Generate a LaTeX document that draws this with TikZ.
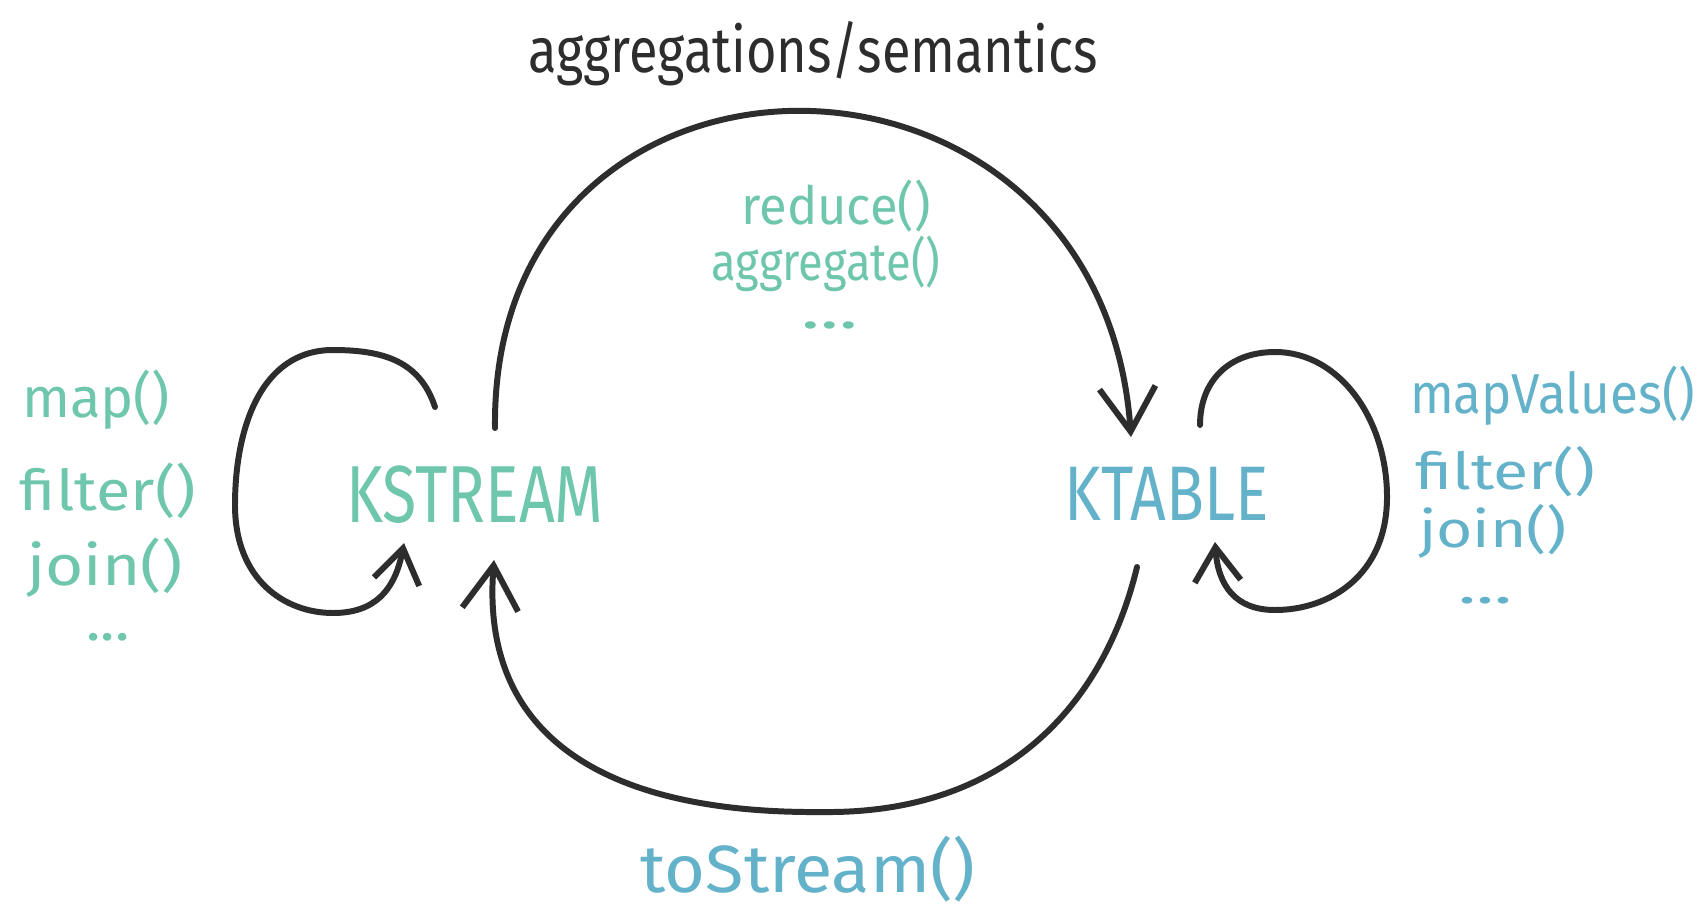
\documentclass[tikz,border=0pt]{standalone}
\usepackage{fontspec}
\setmainfont{Fira Sans}
\usepackage{graphicx}
\usetikzlibrary{arrows.meta}
\definecolor{ink}{RGB}{45,45,45}
\definecolor{kgreen}{RGB}{110,198,172}
\definecolor{kblue}{RGB}{99,178,201}
\newcommand\fitw[2]{\resizebox{#1}{\height}{#2}}
\newcommand\fs[1]{\fontsize{#1}{#1}\selectfont}
\tikzset{
  conn/.style={draw=ink, line width=1.7pt, line cap=round, line join=round},
  bigtip/.style={-{Straight Barb[length=4.4mm,width=5.6mm]}},
  smalltip/.style={-{Straight Barb[length=3.4mm,width=4.6mm]}},
  lbl/.style={inner sep=0pt, outer sep=0pt},
  greentxt/.style={lbl, text=kgreen},
  bluetxt/.style={lbl, text=kblue},
}
\begin{document}
\begin{tikzpicture}[x=0.01cm, y=-0.01cm]
\useasboundingbox (0,0) rectangle (1704,906);
\fill[white] (0,0) rectangle (1704,906);

% title
\node[lbl, text=ink, anchor=base] (title) at (813,72) {\fs{18pt}\fitw{5.69cm}{aggregations/semantics}};

% main nodes
\node[greentxt, anchor=base] (ks) at (475,522) {\fs{23pt}\fitw{2.57cm}{KSTREAM}};
\node[bluetxt, anchor=base] (kt) at (1167,520) {\fs{22pt}\fitw{2.04cm}{KTABLE}};

% center labels
\node[greentxt, anchor=base] (reduce) at (836,224) {\fs{15pt}\fitw{1.89cm}{reduce()}};
\node[greentxt, anchor=base] (aggr) at (826,280) {\fs{15pt}\fitw{2.29cm}{aggregate()}};
\node[greentxt, anchor=base] (cdots) at (830,328) {\fs{15pt}\fitw{0.56cm}{...}};

% left list
\node[greentxt, anchor=base west] (lmap) at (22,417) {\fs{16pt}\fitw{1.48cm}{map()}};
\node[greentxt, anchor=base west] (lfilter) at (20,510) {\fs{16pt}\fitw{1.76cm}{filter()}};
\node[greentxt, anchor=base west] (ljoin) at (27,585) {\fs{16pt}\fitw{1.56cm}{join()}};
\node[greentxt, anchor=base] (ldots) at (108,640) {\fs{16pt}\fitw{0.43cm}{...}};

% right list
\node[bluetxt, anchor=base west] (rmap) at (1410,413) {\fs{16pt}\fitw{2.85cm}{mapValues()}};
\node[bluetxt, anchor=base west] (rfilter) at (1415,489) {\fs{14.5pt}\fitw{1.80cm}{filter()}};
\node[bluetxt, anchor=base west] (rjoin) at (1419,547) {\fs{14.5pt}\fitw{1.48cm}{join()}};
\node[bluetxt, anchor=base] (rdots) at (1485,603) {\fs{14pt}\fitw{0.54cm}{...}};

% bottom label
\node[bluetxt, anchor=base] (tostream) at (808,892) {\fs{19pt}\fitw{3.35cm}{toStream()}};

% connector end points
\coordinate (ksTop) at (495,428);
\coordinate (ktTop) at (1131,437);
\coordinate (ktBot) at (1137,567);
\coordinate (ksBot) at (494,560);
\coordinate (botMid) at (823,812);
\coordinate (ksLoopS) at (435,407);
\coordinate (ksLoopE) at (404,543);
\coordinate (ktLoopS) at (1200,425);
\coordinate (ktLoopE) at (1215,542);

% aggregation arc
\draw[conn, bigtip] (ksTop) .. controls (490,5) and (1100,5) .. (ktTop);
% toStream arc
\draw[conn, bigtip] (ktBot) .. controls (1105,700) and (1010,814) .. (botMid)
  .. controls (610,814) and (480,740) .. (ksBot);
% KStream self loop
\draw[conn, smalltip] (ksLoopS) .. controls (420,362) and (385,350) .. (333,350)
  .. controls (260,350) and (235,430) .. (235,505)
  .. controls (235,580) and (285,613) .. (333,613)
  .. controls (375,613) and (395,590) .. (ksLoopE);
% KTable self loop
\draw[conn, smalltip] (ktLoopS) .. controls (1200,380) and (1230,352) .. (1275,352)
  .. controls (1340,352) and (1387,420) .. (1387,497)
  .. controls (1387,575) and (1330,610) .. (1275,610)
  .. controls (1235,610) and (1218,585) .. (ktLoopE);
\end{tikzpicture}
\end{document}
